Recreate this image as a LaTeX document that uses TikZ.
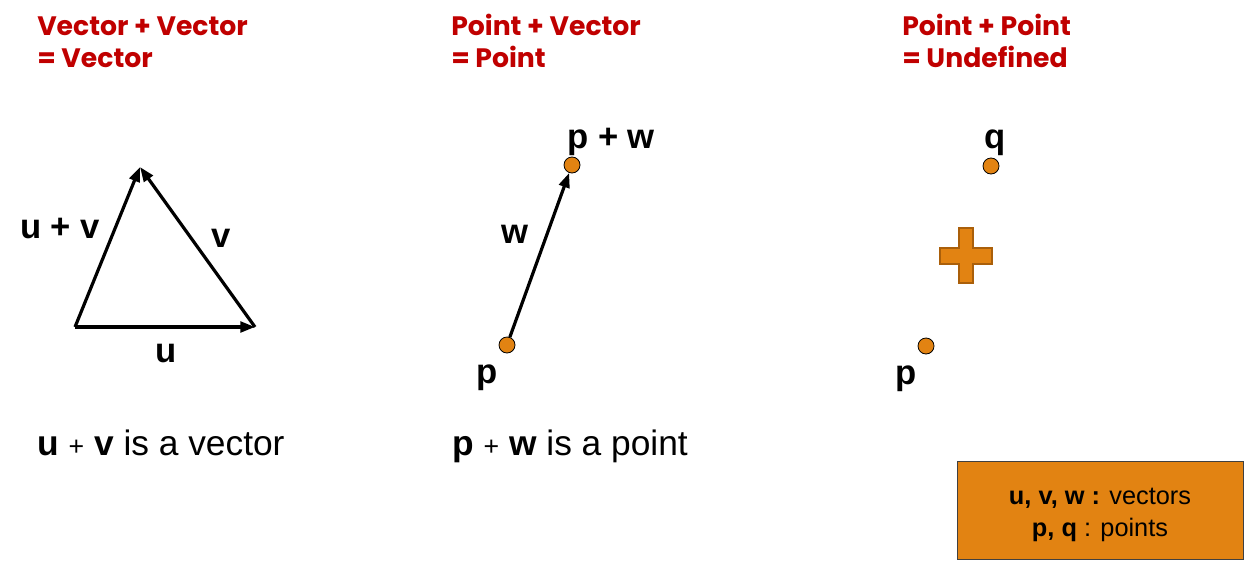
\documentclass[tikz,border=0pt]{standalone}
\usepackage{fontspec}
\setmainfont{Liberation Sans}
\newfontfamily\titlefont{Poppins}
\usetikzlibrary{arrows.meta}
\definecolor{titlered}{RGB}{192,0,0}
\definecolor{orng}{RGB}{226,131,18}
\definecolor{orngdark}{RGB}{170,95,10}
\tikzset{
  title/.style={anchor=base west, inner sep=0pt, text=titlered, font=\titlefont\bfseries\fontsize{20pt}{24pt}\selectfont},
  lbl/.style={anchor=base, inner sep=0pt, font=\bfseries\fontsize{26pt}{30pt}\selectfont},
  caption/.style={anchor=base west, inner sep=0pt, font=\fontsize{26.5pt}{30pt}\selectfont},
  vec/.style={line width=2.4pt, -{Triangle[length=11pt,width=8pt]}},
  dot/.style={circle, draw=black, line width=0.6pt, fill=orng, minimum size=12pt, inner sep=0pt},
  legend/.style={draw=black!75, line width=0.6pt, fill=orng, minimum width=214.5pt, minimum height=73.5pt},
  legtext/.style={align=center, inner sep=0pt, font=\fontsize{19pt}{23.5pt}\selectfont}
}
\begin{document}
\begin{tikzpicture}[x=0.75pt,y=-0.75pt]
\useasboundingbox (0,0) rectangle (1248,564);
% titles
\node[title] (t1a) at (37,35) {Vector + Vector};
\node[title] (t1b) at (37,67) {= Vector};
\node[title] (t2a) at (451,35) {Point + Vector};
\node[title] (t2b) at (451,67) {= Point};
\node[title] (t3a) at (902,35) {Point + Point};
\node[title] (t3b) at (902,67) {= Undefined};
% triangle
\coordinate (A) at (75,327);
\coordinate (B) at (255,327);
\coordinate (C) at (140,167);
\draw[vec] (A) -- (B);
\draw[vec] (B) -- (C);
\draw[vec] (A) -- (C);
\node[lbl] (luv) at (60,238) {u + v};
\node[lbl] (lv) at (221,247) {v};
\node[lbl] (lu) at (166,362) {u};
% point + vector
\node[dot] (p1) at (507,345) {};
\node[dot] (pw) at (572,165) {};
\draw[vec] (p1) -- (pw);
\node[lbl] (lw) at (515,243) {w};
\node[lbl, anchor=base west] (lpw) at (567,148) {p + w};
\node[lbl] (lp1) at (487,383) {p};
% point + point
\node[dot] (q) at (991,166) {};
\node[dot] (p2) at (926,346) {};
\node[lbl] (lq) at (995,148) {q};
\node[lbl] (lp2) at (906,384) {p};
\draw[draw=orngdark, line width=0.8pt, fill=orng]
  (959,228) -- (973,228) -- (973,248) -- (992,248) -- (992,264) -- (973,264)
  -- (973,283) -- (959,283) -- (959,264) -- (940,264) -- (940,248) -- (959,248) -- cycle;
% captions
\node[caption] (c1) at (37,455) {\textbf{u} {\fontsize{20pt}{24pt}\selectfont+} \textbf{v} is a vector};
\node[caption] (c2) at (452,455) {\textbf{p} {\fontsize{20pt}{24pt}\selectfont+} \textbf{w} is a point};
% legend
\node[legend] (leg) at (1100,510) {};
\node[legtext] (legt) at (1100,515) {\textbf{u, v, w :} vectors\\\textbf{p, q} : points};
\end{tikzpicture}
\end{document}
